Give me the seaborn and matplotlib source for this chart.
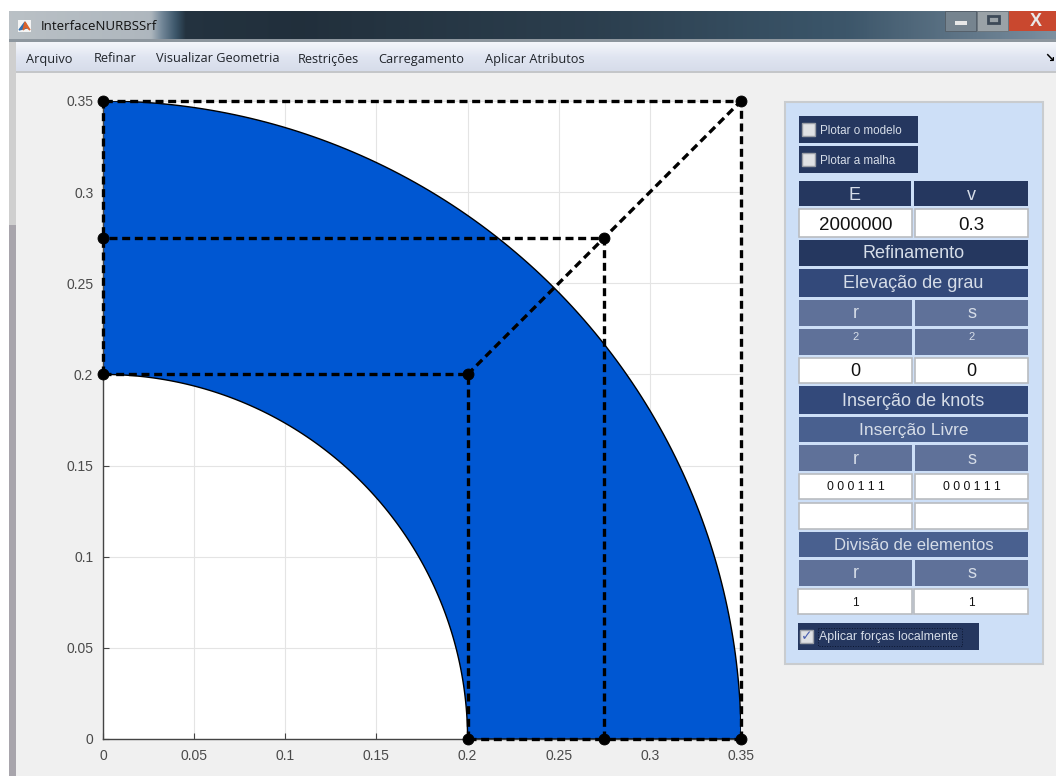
import numpy as np
import pandas as pd
import seaborn as sns
import matplotlib.pyplot as plt
from matplotlib.patches import Rectangle

W, H = 1056, 776

menu_items = ["Arquivo", "Refinar", "Visualizar Geometria", "Restrições", "Carregamento", "Aplicar Atributos"]
window_title = "InterfaceNURBSSrf"
ticks = [0, 0.05, 0.1, 0.15, 0.2, 0.25, 0.3, 0.35]
tick_labels = ["0", "0.05", "0.1", "0.15", "0.2", "0.25", "0.3", "0.35"]

# control net, one row per radius
ctrl_x = [[0.2, 0.2, 0.0], [0.275, 0.275, 0.0], [0.35, 0.35, 0.0]]
ctrl_y = [[0.0, 0.2, 0.2], [0.0, 0.275, 0.275], [0.0, 0.35, 0.35]]
weights = [1, 0.7071, 1]

sns.set_theme(style="whitegrid")
plt.rcParams["font.family"] = ["Liberation Sans", "DejaVu Sans"]

fig = plt.figure(figsize=(W / 100, H / 100), dpi=100, facecolor="#f0f0f0")

# window chrome and side panel are drawn in pixel coordinates
bg = fig.add_axes([0, 0, 1, 1], zorder=0)
bg.set_xlim(0, W)
bg.set_ylim(H, 0)
bg.axis("off")


def box(x0, y0, x1, y1, color, edge="none", ax=bg, lw=1, z=1, ls="-"):
    ax.add_patch(Rectangle((x0, y0), x1 - x0, y1 - y0, facecolor=color, edgecolor=edge, linewidth=lw, zorder=z, linestyle=ls))


box(0, 0, W, H, "white")
box(9, 11, 16, 225, "#cfcfcf")
box(9, 225, 16, H, "#a8a5ac")

# title bar gradient
stops = [9, 150, 185, 300, 600, 850, 940, 1056]
shades = [0.95, 0.9, 0.12, 0.1, 0.2, 0.35, 0.5, 0.7]
title_grad = np.interp(np.linspace(9, W, 400), stops, shades)[None, :]
title_cmap = sns.blend_palette(["#172029", "#3a5468", "#75899a", "#c6cacd"], as_cmap=True)
bg.imshow(title_grad, extent=(9, W, 41, 11), aspect="auto", zorder=2, cmap=title_cmap,
          vmin=0, vmax=1, interpolation="bilinear")
box(9, 39, W, 42, "#8d969e", z=3)

# menu bar gradient
menu_grad = np.linspace(0, 1, 30)[:, None]
menu_cmap = sns.blend_palette(["#f4f6fb", "#e0e5f1", "#d6dcea"], as_cmap=True)
bg.imshow(menu_grad, extent=(16, W, 72, 42), aspect="auto", zorder=2, cmap=menu_cmap, interpolation="bilinear")
box(16, 71, W, 73, "#c4c6c9", z=3)
box(16, 73, W, H, "#f0f0f0")

# window buttons
box(945, 11, 976, 31, "#76848f", edge="#55606a", lw=0.7, z=3)
box(977, 11, 1008, 31, "#9aa2a7", edge="#6c767e", lw=0.7, z=3)
box(1009, 11, W, 31, "#c9482f", z=3)
box(955, 21, 967, 25, "#e8e8e8", z=4)
box(988, 16, 999, 23, "none", edge="#3d4a58", lw=2, z=4)
bg.text(1036, 21, "X", ha="center", va="center", fontsize=13, fontweight="bold", color="#e8e8e8", zorder=4)

# matlab icon
box(18, 20, 31, 32, "#f4f4f4", z=4)
bg.fill([19, 25, 27], [30, 22, 28], color="#2f6fb0", zorder=5)
bg.fill([23, 25, 30, 26], [30, 22, 30, 27], color="#d9622b", zorder=6)
bg.text(41, 27, window_title, ha="left", va="center", fontsize=9.5, color="#111111", zorder=4,
        family=["Open Sans", "DejaVu Sans"])

menu_x = [26, 94, 156, 298, 378, 485]
for x, label in zip(menu_x, menu_items):
    bg.text(x, 59, label, ha="left", va="center", fontsize=9.2, color="#20242a", zorder=4,
            family=["Open Sans", "DejaVu Sans"])
bg.text(1050, 58, "\u2198", ha="center", va="center", fontsize=9, color="black", fontweight="bold", zorder=4,
        family=["DejaVu Sans"])

# side panel
box(785, 102, 1043, 664, "#cddff7", edge="#c9cccf", lw=1.5)
dark, mid, soft, pale = "#25375f", "#33497a", "#49608f", "#5f7199"
light = "#d6dde8"


def widget(x0, y0, x1, y1, color, label="", size=12, text="#d6dde8", va_y=None):
    box(x0, y0, x1, y1, color, edge="#b9bcc0" if color == "white" else "none", lw=1.2)
    if label:
        y = (y0 + y1) / 2 + 1 if va_y is None else va_y
        bg.text((x0 + x1) / 2, y, label, ha="center", va="center", fontsize=size, color=text, zorder=3)


def check(x, y, mark=False):
    box(x, y, x + 13, y + 13, "#dfe1e4", edge="#9a9ea6", z=3)
    if mark:
        bg.text(x + 6.5, y + 6, "\u2713", ha="center", va="center", fontsize=10, fontweight="bold",
                color="#4a5fb0", zorder=4, family=["DejaVu Sans"])


L0, L1, R0, R1 = 799, 912, 915, 1028
widget(799, 116, 918, 143, dark)
check(802, 123)
bg.text(820, 131, "Plotar o modelo", ha="left", va="center", fontsize=8.4, color=light, zorder=3)
widget(799, 146, 918, 173, dark)
check(802, 153)
bg.text(820, 161, "Plotar a malha", ha="left", va="center", fontsize=8.4, color=light, zorder=3)

widget(L0, 181, 911, 206, dark, "E", 13, va_y=195)
widget(914, 181, R1, 206, dark, "v", 13, va_y=195)
widget(L0, 209, L1, 237, "white", "2000000", 13.5, "#111111", va_y=225)
widget(R0, 209, R1, 237, "white", "0.3", 13.5, "#111111", va_y=225)
widget(L0, 240, R1, 266, dark, "Refinamento", 13)
widget(L0, 269, R1, 297, mid, "Elevação de grau", 13)
widget(L0, 300, L1, 326, pale, "r", 13, va_y=314)
widget(R0, 300, R1, 326, pale, "s", 13, va_y=314)
widget(L0, 329, L1, 355, pale, "2", 8, va_y=337)
widget(R0, 329, R1, 355, pale, "2", 8, va_y=337)
widget(L0, 358, L1, 383, "white", "0", 13, "#111111", va_y=372)
widget(R0, 358, R1, 383, "white", "0", 13, "#111111", va_y=372)
widget(L0, 386, R1, 414, mid, "Inserção de knots", 13)
widget(L0, 417, R1, 442, soft, "Inserção Livre", 12.5)
widget(L0, 445, L1, 471, pale, "r", 13, va_y=459)
widget(R0, 445, R1, 471, pale, "s", 13, va_y=459)
widget(L0, 474, L1, 499, "white", "0 0 0 1 1 1", 8.8, "#111111")
widget(R0, 474, R1, 499, "white", "0 0 0 1 1 1", 8.8, "#111111")
widget(L0, 503, L1, 529, "white")
widget(R0, 503, R1, 529, "white")
widget(L0, 532, R1, 557, soft, "Divisão de elementos", 12)
widget(L0, 560, L1, 586, pale, "r", 13, va_y=574)
widget(R0, 560, R1, 586, pale, "s", 13, va_y=574)
widget(798, 589, L1, 614, "white", "1", 8.5, "#111111")
widget(914, 589, R1, 614, "white", "1", 8.5, "#111111")
widget(798, 623, 979, 650, dark)
check(800, 630, mark=True)
bg.text(819, 637, "Aplicar forças localmente", ha="left", va="center", fontsize=8.9, color=light, zorder=3)
box(818, 628, 962, 646, "none", edge="#0c1630", lw=0.7, ls=":", z=3)

# plot axes
ax = fig.add_axes([103 / W, 1 - 739 / H, (741 - 103) / W, (739 - 101) / H], zorder=2, facecolor="white")

# surface outline from the rational quadratic control points
t = np.linspace(0, 1, 121)
b = np.array([(1 - t) ** 2, 2 * t * (1 - t), t ** 2]) * np.array(weights)[:, None]
den = b.sum(axis=0)
inner_x = (np.array(ctrl_x[0])[:, None] * b).sum(axis=0) / den
inner_y = (np.array(ctrl_y[0])[:, None] * b).sum(axis=0) / den
outer_x = (np.array(ctrl_x[2])[:, None] * b).sum(axis=0) / den
outer_y = (np.array(ctrl_y[2])[:, None] * b).sum(axis=0) / den
ax.fill(np.r_[inner_x, outer_x[::-1]], np.r_[inner_y, outer_y[::-1]],
        facecolor="#0057d2", edgecolor="black", linewidth=1, zorder=2)

# dashed control net, drawn along both directions
net = []
xs, ys = np.array(ctrl_x), np.array(ctrl_y)
for i in range(3):
    net.append(pd.DataFrame({"x": xs[i], "y": ys[i], "seg": f"row{i}"}))
    net.append(pd.DataFrame({"x": xs[:, i], "y": ys[:, i], "seg": f"col{i}"}))
net = pd.concat(net)
sns.lineplot(data=net, x="x", y="y", units="seg", estimator=None, sort=False, color="black",
             linewidth=2.4, linestyle=(0, (2.4, 1.4)), ax=ax, zorder=3, clip_on=False)
sns.scatterplot(x=xs.ravel(), y=ys.ravel(), color="black", s=62, edgecolor="black", ax=ax, zorder=4, clip_on=False)

ax.set_xlim(0, 0.35)
ax.set_ylim(0, 0.35)
ax.set_xticks(ticks, tick_labels)
ax.set_yticks(ticks, tick_labels)
ax.set_xlabel("")
ax.set_ylabel("")
ax.grid(True, color="#e4e4e4", linewidth=0.8)
ax.set_axisbelow(True)
ax.tick_params(axis="both", labelsize=10, labelcolor="#4a4a4a", direction="in", length=4, width=0.8,
               color="#444444", left=True, bottom=True)
ax.tick_params(axis="x", pad=7)
ax.tick_params(axis="y", pad=7)
for side in ["top", "right"]:
    ax.spines[side].set_visible(False)
for side in ["left", "bottom"]:
    ax.spines[side].set_color("#444444")
    ax.spines[side].set_linewidth(1)

fig.savefig("out.png", dpi=100)
